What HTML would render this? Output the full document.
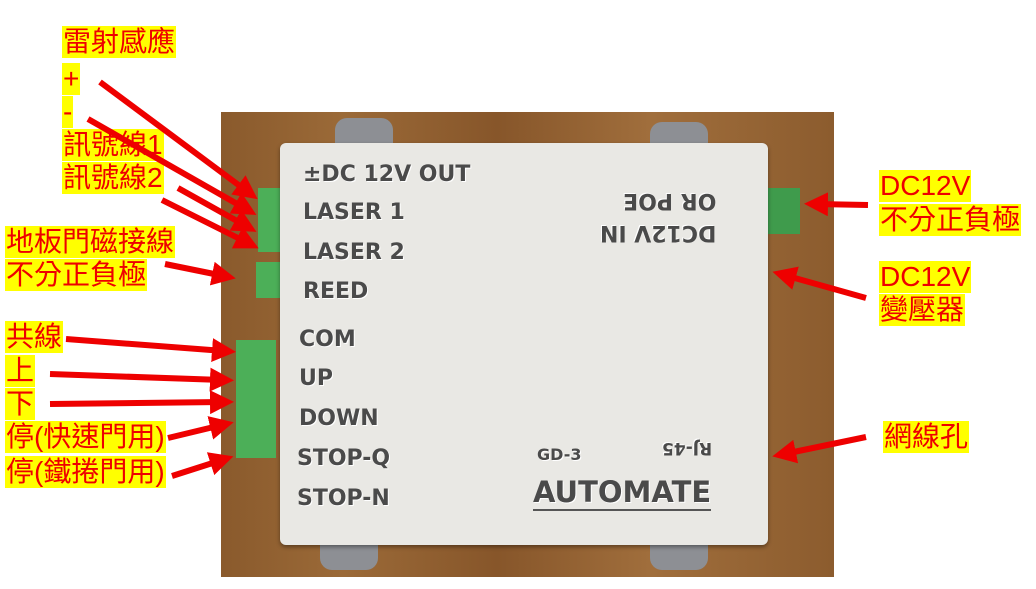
<!DOCTYPE html>
<html><head><meta charset="utf-8"><style>
body{margin:0;width:1036px;height:589px;background:#fff;position:relative;overflow:hidden;font-family:"Liberation Sans","Noto Sans CJK TC",sans-serif}
.lbl{position:absolute;background:#ffff00;color:#ee0000;font-size:28px;line-height:32px;padding:0 1px;white-space:nowrap}
.dt{position:absolute;color:#4a4a4a;font-family:"DejaVu Sans",sans-serif;font-weight:bold;font-size:22px;white-space:nowrap;text-shadow:1px 1px 0 #fff}
</style></head><body>
<div style="position:absolute;left:221px;top:112px;width:613px;height:465px;background:linear-gradient(90deg,#8a5a2c,#9b6a38 20%,#87562a 45%,#a06e3c 70%,#8c5c2e)"></div>
<div style="position:absolute;left:335px;top:118px;width:58px;height:40px;background:#8d8f94;border-radius:12px"></div>
<div style="position:absolute;left:650px;top:122px;width:58px;height:40px;background:#8d8f94;border-radius:12px"></div>
<div style="position:absolute;left:320px;top:530px;width:58px;height:40px;background:#8d8f94;border-radius:12px"></div>
<div style="position:absolute;left:650px;top:530px;width:58px;height:40px;background:#8d8f94;border-radius:12px"></div>
<div style="position:absolute;left:258px;top:188px;width:28px;height:64px;background:#4caf58"></div>
<div style="position:absolute;left:256px;top:262px;width:28px;height:36px;background:#4caf58"></div>
<div style="position:absolute;left:236px;top:340px;width:40px;height:118px;background:#4caf58"></div>
<div style="position:absolute;left:764px;top:188px;width:36px;height:46px;background:#3f9b4c"></div>
<div style="position:absolute;left:280px;top:143px;width:488px;height:402px;background:#e9e8e4;border-radius:6px;box-shadow:0 2px 4px rgba(0,0,0,.4)"></div>
<div class="dt" style="left:303px;top:162px">±DC 12V OUT</div>
<div class="dt" style="left:303px;top:200px">LASER 1</div>
<div class="dt" style="left:303px;top:240px">LASER 2</div>
<div class="dt" style="left:303px;top:279px">REED</div>
<div class="dt" style="left:299px;top:327px">COM</div>
<div class="dt" style="left:299px;top:366px">UP</div>
<div class="dt" style="left:299px;top:406px">DOWN</div>
<div class="dt" style="left:297px;top:446px">STOP-Q</div>
<div class="dt" style="left:297px;top:486px">STOP-N</div>
<div class="dt" style="left:600px;top:184px;transform:rotate(180deg);line-height:32px;text-align:left">DC12V IN<br>OR POE</div>
<div class="dt" style="left:662px;top:438px;font-size:17px;transform:rotate(180deg)">RJ-45</div>
<div class="dt" style="left:537px;top:445px;font-size:16px">GD-3</div>
<div class="dt" style="left:533px;top:475px;font-size:29px;border-bottom:2px solid #555">AUTOMATE</div>
<div class="lbl" style="left:62px;top:26px">雷射感應</div>
<div class="lbl" style="left:62px;top:63px">+</div>
<div class="lbl" style="left:62px;top:96px">-</div>
<div class="lbl" style="left:62px;top:129px">訊號線1</div>
<div class="lbl" style="left:62px;top:162px">訊號線2</div>
<div class="lbl" style="left:5px;top:226px">地板門磁接線</div>
<div class="lbl" style="left:5px;top:259px">不分正負極</div>
<div class="lbl" style="left:5px;top:321px">共線</div>
<div class="lbl" style="left:5px;top:355px">上</div>
<div class="lbl" style="left:5px;top:388px">下</div>
<div class="lbl" style="left:5px;top:421px">停(快速門用)</div>
<div class="lbl" style="left:5px;top:456px">停(鐵捲門用)</div>
<div class="lbl" style="left:879px;top:170px">DC12V</div>
<div class="lbl" style="left:879px;top:204px">不分正負極</div>
<div class="lbl" style="left:879px;top:261px">DC12V</div>
<div class="lbl" style="left:879px;top:294px">變壓器</div>
<div class="lbl" style="left:883px;top:421px">網線孔</div>
<svg width="1036" height="589" style="position:absolute;left:0;top:0">
<defs><marker id="ah" markerWidth="4" markerHeight="4" refX="2" refY="2" orient="auto"><path d="M0,0L4,2L0,4z" fill="#ee0000"/></marker></defs>
<g stroke="#ee0000" stroke-width="6" marker-end="url(#ah)">
<line x1="100" y1="82" x2="248" y2="192"/>
<line x1="88" y1="119" x2="246" y2="209"/>
<line x1="178" y1="188" x2="246" y2="226"/>
<line x1="162" y1="200" x2="248" y2="243"/>
<line x1="165" y1="264" x2="224" y2="276"/>
<line x1="66" y1="339" x2="224" y2="351"/>
<line x1="50" y1="374" x2="222" y2="380"/>
<line x1="50" y1="404" x2="222" y2="402"/>
<line x1="168" y1="438" x2="222" y2="425"/>
<line x1="172" y1="476" x2="222" y2="460"/>
<line x1="868" y1="205" x2="816" y2="204"/>
<line x1="866" y1="298" x2="784" y2="275"/>
<line x1="866" y1="437" x2="784" y2="454"/>
</g></svg>
</body></html>
